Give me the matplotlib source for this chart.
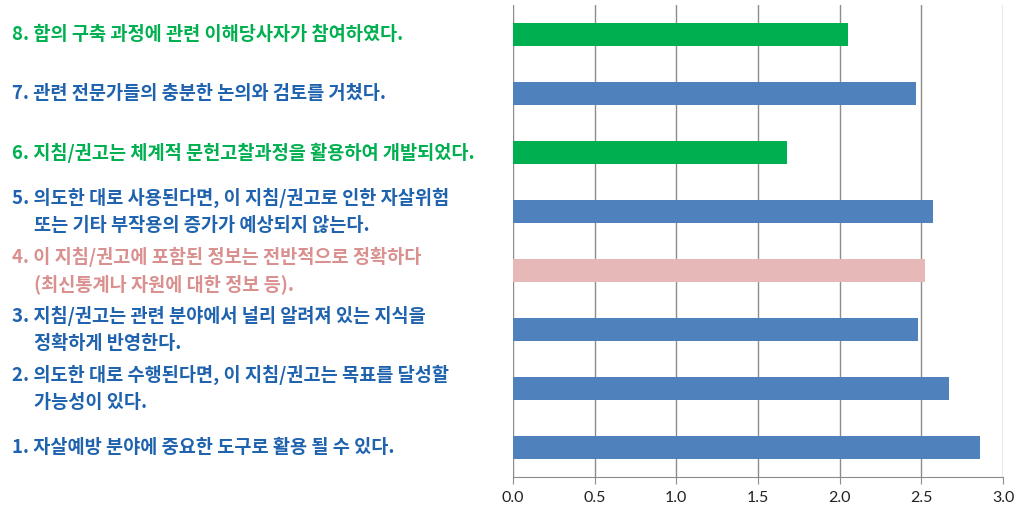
import matplotlib
matplotlib.use("Agg")
import matplotlib.pyplot as plt
import matplotlib.transforms as mtransforms

plt.rcParams['font.family'] = ['Noto Sans CJK KR', 'DejaVu Sans']

# items 1..8 from bottom to top
labels = [
    ["1. 자살예방 분야에 중요한 도구로 활용 될 수 있다."],
    ["2. 의도한 대로 수행된다면, 이 지침/권고는 목표를 달성할", "가능성이 있다."],
    ["3. 지침/권고는 관련 분야에서 널리 알려져 있는 지식을", "정확하게 반영한다."],
    ["4. 이 지침/권고에 포함된 정보는 전반적으로 정확하다", "(최신통계나 자원에 대한 정보 등)."],
    ["5. 의도한 대로 사용된다면, 이 지침/권고로 인한 자살위험", "또는 기타 부작용의 증가가 예상되지 않는다."],
    ["6. 지침/권고는 체계적 문헌고찰과정을 활용하여 개발되었다."],
    ["7. 관련 전문가들의 충분한 논의와 검토를 거쳤다."],
    ["8. 합의 구축 과정에 관련 이해당사자가 참여하였다."],
]
scores = [2.86, 2.67, 2.48, 2.52, 2.57, 1.68, 2.47, 2.05]
groups = ["blue", "blue", "blue", "pink", "blue", "green", "blue", "green"]

bar_colors = {"blue": "#4F81BD", "green": "#00B050", "pink": "#E6B9B8"}
text_colors = {"blue": "#1F62AE", "green": "#00B050", "pink": "#D9908E"}

fig = plt.figure(figsize=(10.24, 5.21), dpi=100)
ax = fig.add_axes([0.501, 0.0845, 0.4785, 0.9055])

pos = list(range(1, len(scores) + 1))
ax.barh(pos, scores, height=0.4, color=[bar_colors[g] for g in groups], zorder=2)

ax.set_xlim(0, 3.0)
ax.set_ylim(0.5, len(scores) + 0.5)
ax.set_xticks([0, 0.5, 1.0, 1.5, 2.0, 2.5, 3.0])
ax.set_xticklabels([f"{v:.1f}" for v in ax.get_xticks()], family=['Lato', 'DejaVu Sans'],
                   fontsize=11.5, color="#222222")
ax.set_yticks([])
ax.grid(axis='x', color="#8C8C8C", linewidth=1.0, zorder=0)
for s in ['top', 'right', 'left']:
    ax.spines[s].set_visible(False)
ax.spines['bottom'].set_color("#8C8C8C")
ax.tick_params(axis='x', length=5, color="#8C8C8C", pad=5)

# category labels on the left, hanging indent for second lines
base = ax.get_yaxis_transform()
x0 = (12 - 513) / 490
line_h = 27
for p, lines, g in zip(pos, labels, groups):
    n = len(lines)
    for i, line in enumerate(lines):
        dy = ((n - 1) / 2 - i) * line_h * 0.72
        dx = 0 if i == 0 else 16
        tr = mtransforms.offset_copy(base, fig=fig, x=dx, y=dy, units='points')
        ax.text(x0, p, line, transform=tr, ha='left', va='center',
                fontsize=13.4, weight='bold', color=text_colors[g])

fig.savefig("out.png", dpi=100)
